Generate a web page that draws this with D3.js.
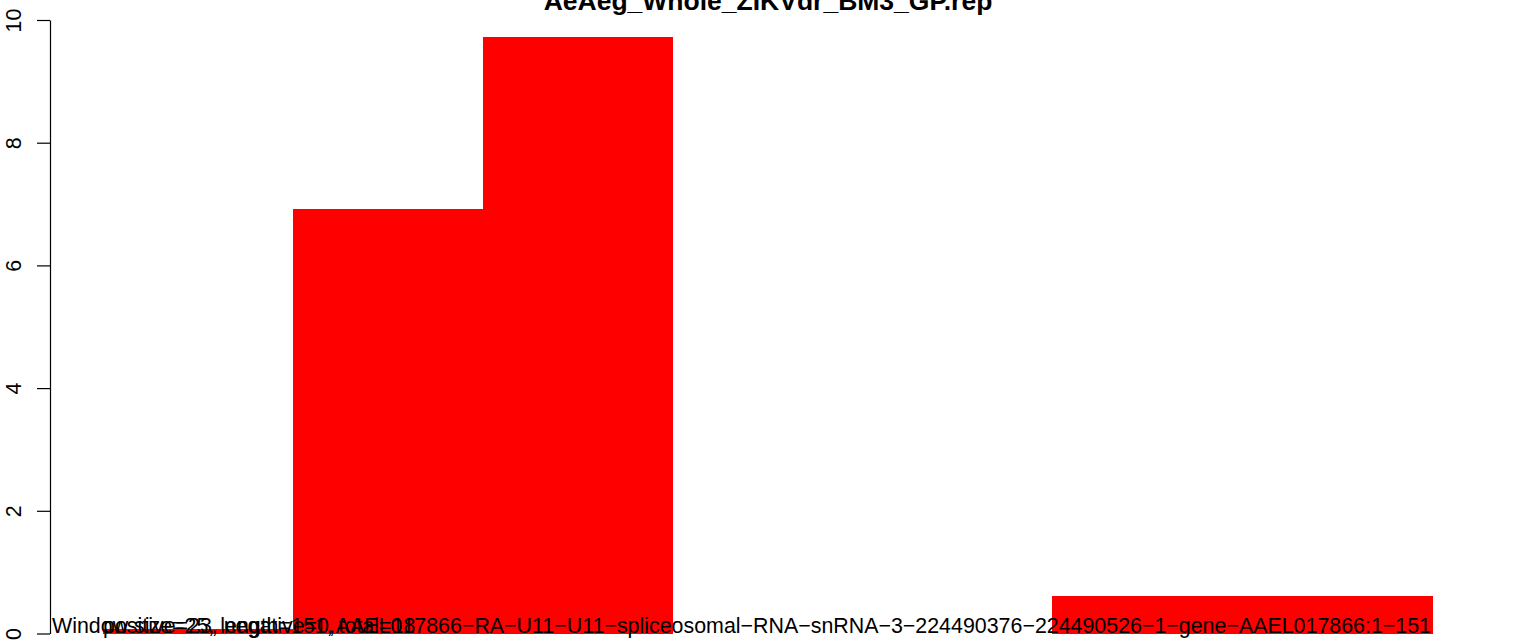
<!DOCTYPE html>
<html>
<head>
<meta charset="utf-8">
<script src="https://cdn.jsdelivr.net/npm/d3@7"></script>
<style>
  html, body { margin: 0; padding: 0; background: #fff; }
  svg { display: block; font-family: "Liberation Sans", Arial, Helvetica, sans-serif; }
</style>
</head>
<body>
<svg id="chart" width="1536" height="641"></svg>
<script>
// ---- data ----
const titleText = "AeAeg_Whole_ZIKVdr_BM3_GP.rep";
const windows = ["1", "2", "3", "4", "5", "6", "7"];
const values = [0.07, 6.92, 9.72, 0, 0, 0.61, 0.61];
const yTicks = [0, 2, 4, 6, 8, 10];
const infoText = "Window size=25, length=151, total=18";
const countText = "positive=23, negative=0,";
const geneText = "AAEL017866\u2212RA\u2212U11\u2212U11\u2212spliceosomal\u2212RNA\u2212snRNA\u22123\u2212224490376\u2212224490526\u22121\u2212gene\u2212AAEL017866:1\u2212151";

// ---- layout ----
const svg = d3.select("#chart");
const axisX = 50;
const fs = 21.4;
const x = d3.scaleBand().domain(windows).range([103, 1432]).paddingInner(0).paddingOuter(0);
const y = d3.scaleLinear().domain([0, 10]).range([633.5, 20]);

// title
svg.append("text")
  .attr("x", 768).attr("y", 10)
  .attr("text-anchor", "middle")
  .attr("font-weight", "bold")
  .attr("font-size", 26.5)
  .text(titleText);

// bars
svg.append("g").attr("shape-rendering", "crispEdges").selectAll("rect")
  .data(values)
  .join("rect")
  .attr("x", (d, i) => x(windows[i]))
  .attr("width", x.bandwidth() + 0.5)
  .attr("y", d => y(d))
  .attr("height", d => y(0) - y(d))
  .attr("fill", "#ff0000");

// y axis
const yAxis = d3.axisLeft(y).tickValues(yTicks).tickSize(13).tickSizeOuter(0).tickFormat(d3.format("d"));
const gy = svg.append("g").attr("transform", `translate(${axisX},0)`).call(yAxis);
gy.select(".domain").attr("stroke", "#000").attr("stroke-width", 1.2);
gy.selectAll(".tick line").attr("stroke", "#000").attr("stroke-width", 1.2);
gy.selectAll(".tick text")
  .attr("transform", "rotate(-90)")
  .attr("x", 0).attr("y", -29).attr("dy", 0)
  .attr("text-anchor", "middle")
  .attr("fill", "#000")
  .attr("font-size", fs)
  .attr("font-family", "Liberation Sans, Arial, sans-serif");

// bottom annotations
const baseY = y(0) - 0.5;
svg.append("text").attr("x", axisX + 2).attr("y", baseY)
  .attr("font-size", fs).text(infoText);
svg.append("text").attr("x", x(windows[0])).attr("y", baseY)
  .attr("font-size", fs).text(countText);
svg.append("text").attr("x", x(windows[6]) + x.bandwidth() - 1).attr("y", baseY)
  .attr("text-anchor", "end")
  .attr("font-size", fs).text(geneText);
</script>
</body>
</html>
